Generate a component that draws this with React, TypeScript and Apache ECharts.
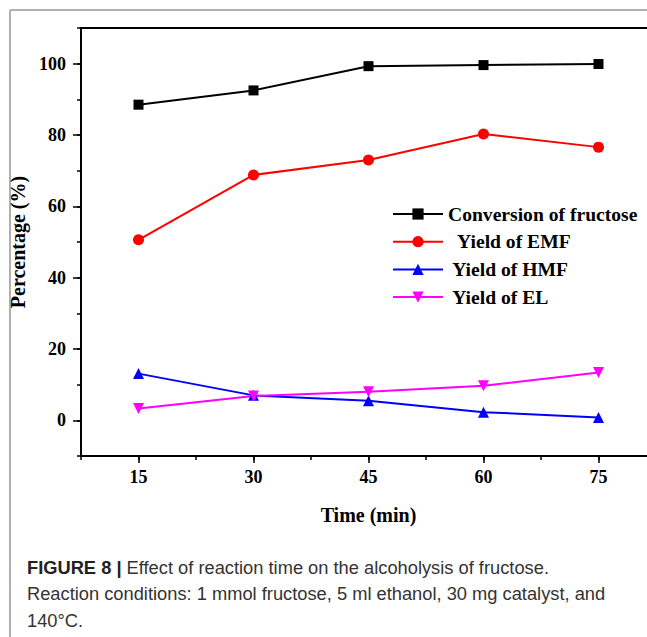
import React, { useEffect, useRef } from "react";
import * as echarts from "echarts";

const times = [15, 30, 45, 60, 75];
const conversion = [88.5, 92.5, 99.3, 99.6, 99.9];
const yieldEMF = [50.6, 68.8, 73.0, 80.3, 76.6];
const yieldHMF = [13.1, 7.0, 5.5, 2.3, 0.8];
const yieldEL = [3.3, 6.8, 8.0, 9.7, 13.4];

const xTickLabels = [15, 30, 45, 60, 75];
const yTickLabels = [0, 20, 40, 60, 80, 100];
const xTickSlots = ["7.5", "15", "22.5", "30", "37.5", "45", "52.5", "60", "67.5", "75", "82.5"];
const yTickSlots = ["-10", "0", "10", "20", "30", "40", "50", "60", "70", "80", "90", "100", "110"];

const seriesNames = ["Conversion of fructose", "  Yield of EMF", " Yield of HMF", " Yield of EL"];

const captionLines = [
  "{b|FIGURE 8 |} Effect of reaction time on the alcoholysis of fructose.",
  "Reaction conditions: 1 mmol fructose, 5 ml ethanol, 30 mg catalyst, and",
  "140°C.",
];

const SERIF = "'Liberation Serif', 'Times New Roman', serif";
const SANS = "'Liberation Sans', Arial, sans-serif";

export default function App() {
  const ref = useRef<HTMLDivElement>(null);
  useEffect(() => {
    if (!ref.current) return;
    const chart = echarts.init(ref.current, undefined, { renderer: "svg" });
    const pair = (arr: number[]) => times.map((t, i) => [t, arr[i]]);
    const mk = (name: string, data: number[], color: string, symbol: string, size: number, rotate = 0) => ({
      name,
      type: "line",
      xAxisIndex: 0,
      yAxisIndex: 0,
      data: pair(data),
      symbol,
      symbolSize: size,
      symbolRotate: rotate,
      lineStyle: { color, width: 2 },
      itemStyle: { color },
      z: 5,
    });
    chart.setOption({
      animation: false,
      backgroundColor: "#fff",
      grid: {
        left: 81,
        top: 28,
        width: 575,
        height: 428,
        show: true,
        borderColor: "#000",
        borderWidth: 2,
        backgroundColor: "transparent",
      },
      legend: {
        orient: "vertical",
        left: 392,
        top: 204,
        padding: 0,
        itemWidth: 50,
        itemHeight: 14,
        itemGap: 7.7,
        data: seriesNames,
        textStyle: {
          fontFamily: SERIF,
          fontWeight: "bold",
          fontSize: 19.6,
          lineHeight: 20,
          color: "#000",
        },
      },
      xAxis: [
        {
          type: "value",
          min: 7.5,
          max: 82.5,
          interval: 7.5,
          position: "bottom",
          axisLine: { show: true, onZero: false, lineStyle: { color: "#000", width: 2 } },
          axisTick: { show: true, inside: false, length: 4, lineStyle: { color: "#000", width: 1.5 } },
          splitLine: { show: false },
          axisLabel: {
            margin: 12,
            color: "#000",
            fontFamily: SERIF,
            fontWeight: "bold",
            fontSize: 18,
            formatter: (v: number) => (xTickLabels.includes(v) ? String(v) : ""),
          },
          name: "Time (min)",
          nameLocation: "middle",
          nameGap: 49,
          nameTextStyle: { fontFamily: SERIF, fontWeight: "bold", fontSize: 20, color: "#000" },
        },
        {
          type: "category",
          data: xTickSlots,
          boundaryGap: false,
          position: "bottom",
          axisLine: { show: false, onZero: false },
          axisTick: {
            show: true,
            length: 7,
            interval: (i: number) => i % 2 === 1 && i <= 9,
            lineStyle: { color: "#000", width: 1.5 },
          },
          axisLabel: { show: false },
          splitLine: { show: false },
        },
      ],
      yAxis: [
        {
          type: "value",
          min: -10,
          max: 110,
          interval: 10,
          position: "left",
          axisLine: { show: true, onZero: false, lineStyle: { color: "#000", width: 2 } },
          axisTick: { show: true, inside: false, length: 4, lineStyle: { color: "#000", width: 1.5 } },
          splitLine: { show: false },
          axisLabel: {
            margin: 15,
            color: "#000",
            fontFamily: SERIF,
            fontWeight: "bold",
            fontSize: 18,
            formatter: (v: number) => (yTickLabels.includes(v) ? String(v) : ""),
          },
          name: "Percentage (%)",
          nameLocation: "middle",
          nameGap: 41,
          nameTextStyle: { fontFamily: SERIF, fontWeight: "bold", fontSize: 20, color: "#000" },
        },
        {
          type: "category",
          data: yTickSlots,
          boundaryGap: false,
          position: "left",
          axisLine: { show: false, onZero: false },
          axisTick: {
            show: true,
            length: 8,
            interval: (i: number) => i % 2 === 1,
            lineStyle: { color: "#000", width: 1.5 },
          },
          axisLabel: { show: false },
          splitLine: { show: false },
        },
      ],
      series: [
        mk(seriesNames[0], conversion, "#000000", "rect", 10),
        mk(seriesNames[1], yieldEMF, "#ff0000", "circle", 11),
        mk(seriesNames[2], yieldHMF, "#0000ff", "triangle", 11),
        mk(seriesNames[3], yieldEL, "#ff00ff", "triangle", 11, 180),
      ],
      graphic: [
        { type: "line", shape: { x1: 10, y1: 10, x2: 700, y2: 10 }, style: { stroke: "#b0b0b0", lineWidth: 2 }, silent: true },
        { type: "line", shape: { x1: 10, y1: 10, x2: 10, y2: 640 }, style: { stroke: "#b0b0b0", lineWidth: 2 }, silent: true },
        ...captionLines.map((t, i) => ({
          type: "text",
          left: 27,
          top: 558 + i * 26.5,
          style: {
            text: t,
            fill: "#333",
            fontFamily: SANS,
            fontSize: 18.3,
            rich: {
              b: { fontFamily: SANS, fontSize: 18.3, fontWeight: "bold", fill: "#222" },
            },
          },
          silent: true,
        })),
      ],
    });
    return () => chart.dispose();
  }, []);
  return (
    <div style={{ position: "fixed", left: 0, top: 0, width: 647, height: 637, overflow: "hidden", background: "#fff" }}>
      <div ref={ref} style={{ position: "absolute", left: 0, top: 0, width: 700, height: 637 }} />
    </div>
  );
}
